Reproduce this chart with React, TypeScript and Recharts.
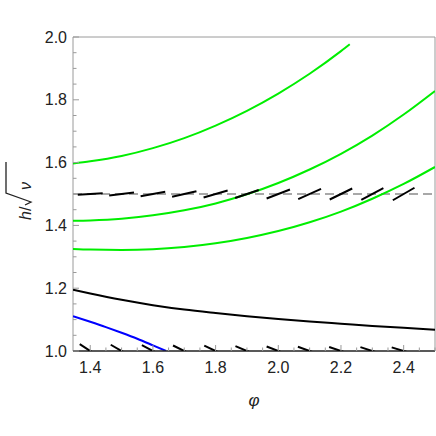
import React from 'react';
import { ComposedChart, Line, Scatter, XAxis, YAxis, ReferenceLine } from 'recharts';

// ---- data ----
const phiGreen1 = [1.345, 1.4, 1.5, 1.6, 1.7, 1.8, 1.9, 2.0, 2.1, 2.2, 2.228];
const hGreen1 = [1.597, 1.604, 1.621, 1.646, 1.678, 1.718, 1.765, 1.82, 1.883, 1.955, 1.977];

const phiGrid = [1.345, 1.4, 1.5, 1.6, 1.7, 1.8, 1.9, 2.0, 2.1, 2.2, 2.3, 2.4, 2.5];
const hGreen2 = [1.415, 1.416, 1.421, 1.432, 1.448, 1.47, 1.499, 1.535, 1.578, 1.628, 1.686, 1.753, 1.828];
const hGreen3 = [1.325, 1.323, 1.322, 1.324, 1.331, 1.343, 1.36, 1.382, 1.41, 1.444, 1.485, 1.532, 1.586];
const hBlack = [1.195, 1.183, 1.163, 1.146, 1.132, 1.121, 1.111, 1.102, 1.094, 1.087, 1.08, 1.074, 1.068];

const phiBlue = [1.345, 1.4, 1.45, 1.5, 1.55, 1.6, 1.642];
const hBlue = [1.111, 1.093, 1.076, 1.058, 1.039, 1.018, 1.0];

const markerPhi = [1.4, 1.5, 1.6, 1.7, 1.8, 1.9, 2.0, 2.1, 2.2, 2.3, 2.4];
const upperMarkerH = 1.5;
const upperAngles = [4, 7, 10, 13, 16, 19, 21, 24, 26, 28, 30];
const lowerMarkerH = 1.0;
const lowerAngles = [-33, -30, -28, -26, -25, -23, -21, -20, -19, -18, -17];

const dashedLevel = 1.5;

const xTicks = [1.4, 1.45, 1.5, 1.55, 1.6, 1.65, 1.7, 1.75, 1.8, 1.85, 1.9, 1.95, 2.0, 2.05, 2.1, 2.15, 2.2, 2.25, 2.3, 2.35, 2.4, 2.45, 2.5];
const xMajor = [1.4, 1.6, 1.8, 2.0, 2.2, 2.4];
const yTicks = [1.0, 1.05, 1.1, 1.15, 1.2, 1.25, 1.3, 1.35, 1.4, 1.45, 1.5, 1.55, 1.6, 1.65, 1.7, 1.75, 1.8, 1.85, 1.9, 1.95, 2.0];
const yMajor = [1.0, 1.2, 1.4, 1.6, 1.8, 2.0];

const xDomain = [1.345, 2.5];
const yDomain = [1.0, 2.0];

// ---- build series tables ----
const zip = (xs: number[], ys: number[]) => xs.map((x, i) => ({ x, y: ys[i] }));
const green1 = zip(phiGreen1, hGreen1);
const green2 = zip(phiGrid, hGreen2);
const green3 = zip(phiGrid, hGreen3);
const black = zip(phiGrid, hBlack);
const blue = zip(phiBlue, hBlue);
const upperMarkers = markerPhi.map((x, i) => ({ x, y: upperMarkerH, a: upperAngles[i] }));
const lowerMarkers = markerPhi.map((x, i) => ({ x, y: lowerMarkerH, a: lowerAngles[i] }));

const FONT = '"Liberation Sans", Arial, sans-serif';
const FRAME = '#9a9a9a';
const GREEN = '#00ee00';
const isIn = (arr: number[], v: number) => arr.some((m) => Math.abs(m - v) < 1e-6);

const SegmentShape = (props: any) => {
  const { cx, cy, payload } = props;
  const L = 25;
  const r = (payload.a * Math.PI) / 180;
  const dx = (L / 2) * Math.cos(r);
  const dy = (L / 2) * Math.sin(r);
  return <line x1={cx - dx} y1={cy + dy} x2={cx + dx} y2={cy - dy} stroke="#000" strokeWidth={2} />;
};

const BottomTick = (props: any) => {
  const { x, y, payload } = props;
  const major = isIn(xMajor, payload.value);
  return (
    <g>
      <line x1={x} x2={x} y1={y} y2={y - (major ? 6 : 3.5)} stroke={FRAME} />
      {major && (
        <text x={x} y={y + 22} textAnchor="middle" fontSize={16} fill="#222" fontFamily={FONT}>
          {payload.value.toFixed(1)}
        </text>
      )}
    </g>
  );
};
const TopTick = (props: any) => {
  const { x, y, payload } = props;
  const major = isIn(xMajor, payload.value);
  return <line x1={x} x2={x} y1={y} y2={y + (major ? 6 : 3.5)} stroke={FRAME} />;
};
const LeftTick = (props: any) => {
  const { x, y, payload } = props;
  const major = isIn(yMajor, payload.value);
  return (
    <g>
      <line x1={x} x2={x + (major ? 6 : 3.5)} y1={y} y2={y} stroke={FRAME} />
      {major && (
        <text x={x - 6} y={y + 5.5} textAnchor="end" fontSize={16} fill="#222" fontFamily={FONT}>
          {payload.value.toFixed(1)}
        </text>
      )}
    </g>
  );
};
const RightTick = (props: any) => {
  const { x, y, payload } = props;
  const major = isIn(yMajor, payload.value);
  return <line x1={x} x2={x - (major ? 6 : 3.5)} y1={y} y2={y} stroke={FRAME} />;
};

// rotated frame: local (lx, ly) -> screen (ly, -lx)
const YLabel = () => (
  <g transform="rotate(-90)">
    <text x={-220} y={31} fontSize={16} fontFamily={FONT} fill="#222">
      <tspan fontStyle="italic">h</tspan>
      <tspan>/</tspan>
    </text>
    <path d="M -205 25 L -202 31 L -193 6 L -162 6" fill="none" stroke="#222" strokeWidth={1.3} />
    <text x={-190} y={31} fontSize={16} fontFamily={FONT} fontStyle="italic" fill="#222">ν</text>
  </g>
);
const XLabel = () => (
  <text x={254} y={406} textAnchor="middle" fontSize={17} fontStyle="italic" fontFamily={FONT} fill="#222">φ</text>
);

export default function App() {
  return (
    <div style={{ position: 'absolute', left: 0, top: 0, width: 436, height: 436, background: '#fff' }}>
      <ComposedChart width={436} height={436} margin={{ top: 37, right: 1, left: 0, bottom: 0 }}>
        <XAxis
          xAxisId="b"
          type="number"
          dataKey="x"
          domain={xDomain}
          allowDataOverflow
          ticks={xTicks}
          interval={0}
          orientation="bottom"
          height={85}
          tickSize={0}
          tickMargin={0}
          tick={BottomTick}
          axisLine={false}
          tickLine={false}
          label={{ content: XLabel }}
        />
        <XAxis
          xAxisId="t"
          type="number"
          dataKey="x"
          domain={xDomain}
          allowDataOverflow
          ticks={xTicks}
          interval={0}
          orientation="top"
          height={0}
          tickSize={0}
          tickMargin={0}
          tick={TopTick}
          axisLine={false}
          tickLine={false}
        />
        <YAxis
          yAxisId="l"
          type="number"
          domain={yDomain}
          allowDataOverflow
          ticks={yTicks}
          interval={0}
          orientation="left"
          width={73}
          tickSize={0}
          tickMargin={0}
          tick={LeftTick}
          axisLine={false}
          tickLine={false}
          label={{ content: YLabel }}
        />
        <YAxis
          yAxisId="r"
          type="number"
          domain={yDomain}
          allowDataOverflow
          ticks={yTicks}
          interval={0}
          orientation="right"
          width={0}
          tickSize={0}
          tickMargin={0}
          tick={RightTick}
          axisLine={false}
          tickLine={false}
        />
        <ReferenceLine xAxisId="b" yAxisId="l" y={2.0} stroke={FRAME} strokeWidth={1} />
        <ReferenceLine xAxisId="b" yAxisId="l" x={1.345} stroke={FRAME} strokeWidth={1} />
        <ReferenceLine xAxisId="b" yAxisId="l" x={2.5} stroke={FRAME} strokeWidth={1} />
        <ReferenceLine xAxisId="b" yAxisId="l" y={dashedLevel} stroke="#8c8c8c" strokeWidth={1.6} strokeDasharray="9 5" />
        <Line xAxisId="b" yAxisId="l" data={green1} dataKey="y" type="monotone" stroke={GREEN} strokeWidth={2} dot={false} isAnimationActive={false} />
        <Line xAxisId="b" yAxisId="l" data={green2} dataKey="y" type="monotone" stroke={GREEN} strokeWidth={2} dot={false} isAnimationActive={false} />
        <Line xAxisId="b" yAxisId="l" data={green3} dataKey="y" type="monotone" stroke={GREEN} strokeWidth={2} dot={false} isAnimationActive={false} />
        <Line xAxisId="b" yAxisId="l" data={black} dataKey="y" type="monotone" stroke="#000" strokeWidth={2} dot={false} isAnimationActive={false} />
        <Line xAxisId="b" yAxisId="l" data={blue} dataKey="y" type="monotone" stroke="#0000ff" strokeWidth={2} dot={false} isAnimationActive={false} />
        <Scatter xAxisId="b" yAxisId="l" data={upperMarkers} dataKey="y" shape={SegmentShape} isAnimationActive={false} />
        <Scatter xAxisId="b" yAxisId="l" data={lowerMarkers} dataKey="y" shape={SegmentShape} isAnimationActive={false} />
        <ReferenceLine xAxisId="b" yAxisId="l" y={1.0} stroke="#222" strokeWidth={1.5} />
      </ComposedChart>
    </div>
  );
}
